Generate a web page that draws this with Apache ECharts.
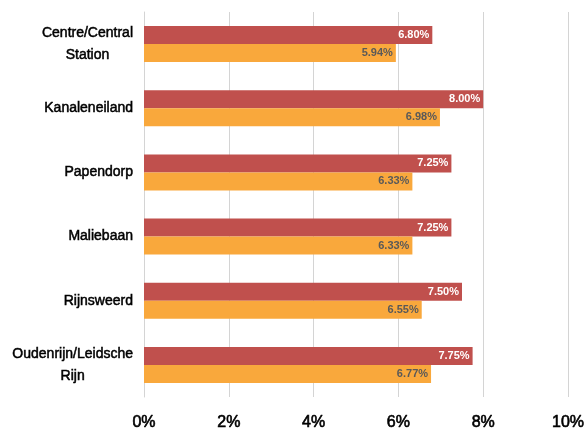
<!DOCTYPE html>
<html>
<head>
<meta charset="utf-8">
<script src="https://cdn.jsdelivr.net/npm/echarts@6/dist/echarts.min.js"></script>
<style>
  html, body { margin: 0; padding: 0; background: #fff; }
  #chart { width: 585px; height: 435px; }
</style>
</head>
<body>
<div id="chart"></div>
<script>
// categories, top to bottom
var categories = [
  "Centre/Central\nStation",
  "Kanaleneiland",
  "Papendorp",
  "Maliebaan",
  "Rijnsweerd",
  "Oudenrijn/Leidsche\nRijn"
];
var redValues = [6.80, 8.00, 7.25, 7.25, 7.50, 7.75];
var orangeValues = [5.94, 6.98, 6.33, 6.33, 6.55, 6.77];
var xTicks = [0, 2, 4, 6, 8, 10];

var myChart = echarts.init(document.getElementById("chart"));
var font = "'Liberation Sans', Arial, sans-serif";

var option = {
  animation: false,
  grid: {
    left: 144,
    right: 17,
    top: 12,
    bottom: 38,
    outerBoundsMode: "none"
  },
  xAxis: {
    type: "value",
    min: xTicks[0],
    max: xTicks[xTicks.length - 1],
    interval: 2,
    axisLine: { show: false },
    axisTick: { show: false },
    splitLine: {
      show: true,
      lineStyle: { color: "#d4d4d4", width: 1 }
    },
    axisLabel: {
      margin: 18,
      color: "#000",
      fontFamily: font,
      fontSize: 16,
      textBorderColor: "#000",
      textBorderWidth: 0.6,
      formatter: function (v) {
        return v + "%";
      }
    }
  },
  yAxis: {
    type: "category",
    inverse: true,
    data: categories,
    axisLine: {
      show: true,
      lineStyle: { color: "#d4d4d4" }
    },
    axisTick: { show: false },
    axisLabel: {
      margin: 11,
      color: "#000",
      fontFamily: font,
      fontSize: 14,
      lineHeight: 22,
      formatter: function (v) {
        // centre the lines of two-line labels
        return v.split("\n").map(function (s) {
          return "{c|" + s + "}";
        }).join("\n");
      },
      rich: {
        c: {
          align: "center",
          color: "#000",
          fontFamily: font,
          fontSize: 14,
          lineHeight: 22,
          textBorderColor: "#000",
          textBorderWidth: 0.5
        }
      }
    }
  },
  series: [
    {
      name: "red",
      type: "bar",
      barWidth: 18,
      barGap: 0,
      itemStyle: { color: "#C0504D" },
      label: {
        show: true,
        position: "insideRight",
        distance: 3,
        color: "#fff",
        fontFamily: font,
        fontWeight: "bold",
        fontSize: 11,
        formatter: function (p) {
          return p.value.toFixed(2) + "%";
        }
      },
      data: redValues
    },
    {
      name: "orange",
      type: "bar",
      barWidth: 18,
      barGap: 0,
      itemStyle: { color: "#F9A83C" },
      label: {
        show: true,
        position: "insideRight",
        distance: 3,
        color: "#595959",
        fontFamily: font,
        fontWeight: "bold",
        fontSize: 11,
        formatter: function (p) {
          return p.value.toFixed(2) + "%";
        }
      },
      data: orangeValues
    }
  ]
};
myChart.setOption(option);
</script>
</body>
</html>
